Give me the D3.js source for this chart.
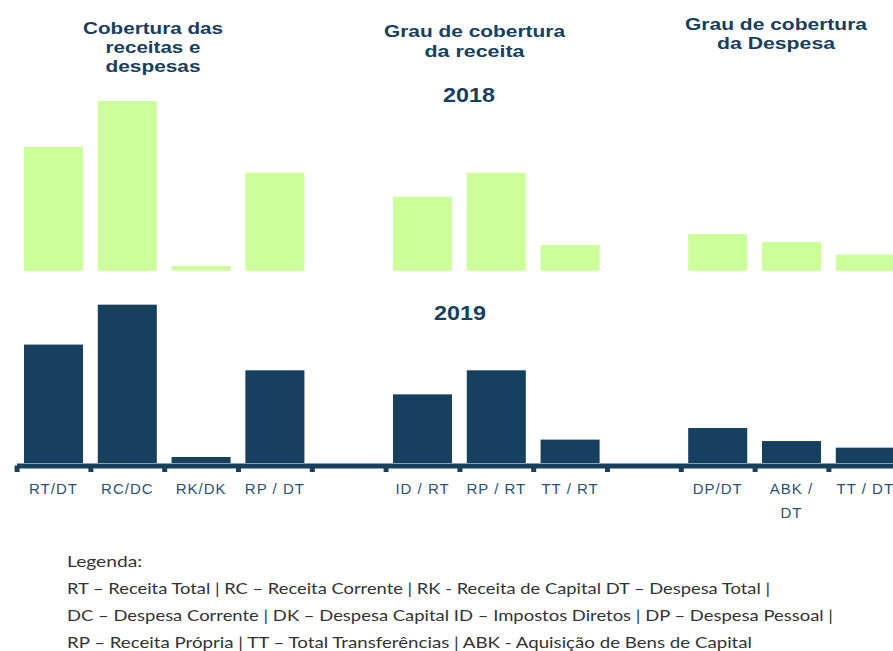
<!DOCTYPE html>
<html>
<head>
<meta charset="utf-8">
<script src="https://cdn.jsdelivr.net/npm/d3@7"></script>
<style>
  body { margin: 0; background: #fff; }
  svg { display: block; }
</style>
</head>
<body>
<div id="chart"></div>
<script>
// categories (gap slots separate the three groups)
var categories = ["RT/DT", "RC/DC", "RK/DK", "RP / DT", "gap1", "ID / RT", "RP / RT", "TT / RT", "gap2", "DP/DT", "ABK / DT", "TT / DT"];
var labelLines = {"ABK / DT": ["ABK /", "DT"]};

// ratios in %
var values2018 = [95.2, 130.5, 3.6, 75.4, null, 56.9, 75.4, 19.8, null, 28.2, 22.1, 12.3];
var values2019 = [91.1, 121.8, 4.6, 71.3, null, 52.8, 71.3, 18.0, null, 26.9, 16.9, 11.8];

var groupTitles = [
  ["Cobertura das", "receitas e", "despesas"],
  ["Grau de cobertura", "da receita"],
  ["Grau de cobertura", "da Despesa"]
];
var years = ["2018", "2019"];
var legendLines = [
  "Legenda:",
  "RT – Receita Total | RC – Receita Corrente | RK - Receita de Capital DT – Despesa Total |",
  "DC – Despesa Corrente | DK – Despesa Capital ID – Impostos Diretos | DP – Despesa Pessoal |",
  "RP – Receita Própria | TT – Total Transferências | ABK - Aquisição de Bens de Capital"
];

var width = 893, height = 651;
var dark = "#17405f", green = "#ccff99";

var svg = d3.select("#chart")
  .append("svg")
    .attr("width", width)
    .attr("height", height);

var x = d3.scaleBand()
  .domain(categories)
  .range([16.6, 902.2])
  .paddingInner(0.2)
  .paddingOuter(0.1);

var y18 = d3.scaleLinear().domain([0, 140]).range([270.7, 88.7]);
var y19 = d3.scaleLinear().domain([0, 140]).range([463, 281]);

var data18 = categories.map(function(c, i){ return {cat: c, v: values2018[i]}; }).filter(function(d){ return d.v != null; });
var data19 = categories.map(function(c, i){ return {cat: c, v: values2019[i]}; }).filter(function(d){ return d.v != null; });

// 2018 bars
svg.append("g").selectAll("rect")
  .data(data18)
  .enter()
  .append("rect")
    .attr("x", function(d){ return x(d.cat); })
    .attr("y", function(d){ return y18(d.v); })
    .attr("width", x.bandwidth())
    .attr("height", function(d){ return y18(0) - y18(d.v); })
    .style("fill", green);

// 2019 bars
svg.append("g").selectAll("rect")
  .data(data19)
  .enter()
  .append("rect")
    .attr("x", function(d){ return x(d.cat); })
    .attr("y", function(d){ return y19(d.v); })
    .attr("width", x.bandwidth())
    .attr("height", function(d){ return y19(0) - y19(d.v); })
    .style("fill", dark);

// thick baseline with ticks at slot boundaries
var xEdge = d3.scaleLinear().domain([0, categories.length]).range(x.range());
var axisG = svg.append("g")
  .attr("transform", "translate(0," + 465.5 + ")")
  .call(d3.axisBottom(xEdge).tickValues(d3.range(0, categories.length + 1)).tickSize(6.5).tickSizeOuter(0).tickFormat(""));
axisG.select(".domain").attr("stroke", dark).attr("stroke-width", 5);
axisG.selectAll(".tick line").attr("stroke", dark).attr("stroke-width", 5);

// category labels
var labG = svg.append("g")
  .attr("transform", "translate(0," + 465.5 + ")")
  .call(d3.axisBottom(x).tickSize(0).tickPadding(18));
labG.select(".domain").remove();
labG.selectAll(".tick text")
  .style("font-family", "'Liberation Sans', Arial, sans-serif")
  .style("font-size", "15px")
  .style("letter-spacing", "1px")
  .attr("fill", "#2b5272")
  .each(function(d){
    var t = d3.select(this);
    var lines = d.indexOf("gap") === 0 ? [] : (labelLines[d] || [d]);
    t.text(null);
    lines.forEach(function(l, i){
      t.append("tspan").attr("x", 0).attr("dy", i === 0 ? "0.71em" : "24px").text(l);
    });
  });

// group titles
var titleSpec = [
  {cx: 153, y0: 34.3, lh: 18.7, lens: [140, 95, 95]},
  {cx: 474.5, y0: 36.7, lh: 20, lens: [181, 100]},
  {cx: 776, y0: 30, lh: 19.3, lens: [182, 118]}
];
groupTitles.forEach(function(lines, gi){
  var s = titleSpec[gi];
  lines.forEach(function(l, i){
    svg.append("text")
      .attr("x", s.cx)
      .attr("y", s.y0 + i * s.lh)
      .attr("text-anchor", "middle")
      .attr("textLength", s.lens[i])
      .attr("lengthAdjust", "spacingAndGlyphs")
      .style("font-family", "'Liberation Sans', Arial, sans-serif")
      .style("font-weight", "bold")
      .style("font-size", "16.5px")
      .style("fill", dark)
      .text(l);
  });
});

// year labels
svg.append("text").attr("x", 469).attr("y", 102.3).text(years[0]);
svg.append("text").attr("x", 460).attr("y", 320).text(years[1]);
svg.selectAll("text").filter(function(){ return years.indexOf(this.textContent) >= 0; })
  .attr("text-anchor", "middle")
  .attr("textLength", 52)
  .attr("lengthAdjust", "spacingAndGlyphs")
  .style("font-family", "'Liberation Sans', Arial, sans-serif")
  .style("font-weight", "bold")
  .style("font-size", "21px")
  .style("fill", dark);

// legend
var legLens = [75, 703, 766, 685];
legendLines.forEach(function(l, i){
  svg.append("text")
    .attr("x", 67)
    .attr("y", 567 + i * 27)
    .attr("textLength", legLens[i])
    .attr("lengthAdjust", "spacingAndGlyphs")
    .style("font-family", "Lato, 'Open Sans', sans-serif")
    .style("font-size", "16px")
    .style("fill", "#333333")
    .text(l);
});
</script>
</body>
</html>
